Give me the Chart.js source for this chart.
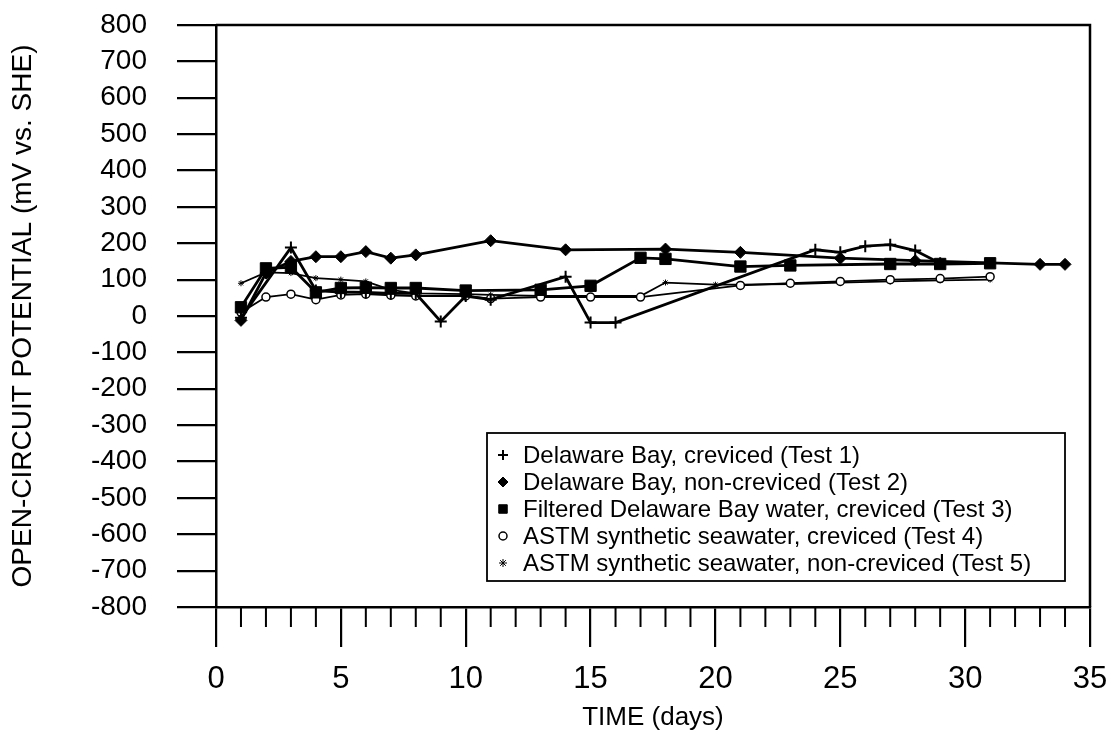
<!DOCTYPE html>
<html>
<head>
<meta charset="utf-8">
<script src="https://cdn.jsdelivr.net/npm/chart.js@4/dist/chart.umd.min.js"></script>
<style>
  html, body { margin: 0; padding: 0; background: #fff; }
  #wrap { width: 1117px; height: 737px; position: relative; }
</style>
</head>
<body>
<div id="wrap"><canvas id="c" width="1117" height="737"></canvas></div>
<script>
// ---- Data ----
const seriesLabels = [
  'Delaware Bay, creviced (Test 1)',
  'Delaware Bay, non-creviced (Test 2)',
  'Filtered Delaware Bay water, creviced (Test 3)',
  'ASTM synthetic seawater, creviced (Test 4)',
  'ASTM synthetic seawater, non-creviced (Test 5)'
];
const days1 = [1, 3, 4, 5, 6, 7, 8, 9, 10, 11, 14, 15, 16, 24, 25, 26, 27, 28, 29];
const test1 = [-5, 188, 70, 66, 65, 62, 62, -15, 55, 45, 108, -18, -18, 182, 175, 192, 196, 180, 145];

const days2 = [1, 2, 3, 4, 5, 6, 7, 8, 11, 14, 18, 21, 25, 28, 33, 34];
const test2 = [-12, 118, 150, 163, 163, 177, 159, 168, 207, 182, 184, 175, 159, 152, 142, 142];

const days3 = [1, 2, 3, 4, 5, 6, 7, 8, 10, 13, 15, 17, 18, 21, 23, 27, 29, 31];
const test3 = [24, 131, 134, 65, 77, 78, 77, 77, 70, 72, 83, 160, 157, 136, 139, 143, 143, 145];

const days4 = [1, 2, 3, 4, 5, 6, 7, 8, 10, 11, 13, 15, 17, 21, 23, 25, 27, 29, 31];
const test4 = [10, 52, 60, 45, 58, 60, 57, 55, 55, 48, 52, 52, 52, 84, 90, 95, 100, 103, 108];

const days5 = [1, 2, 3, 4, 5, 6, 7, 8, 10, 11, 13, 15, 17, 18, 20, 21, 23, 25, 27, 29, 31];
const test5 = [90, 120, 118, 104, 100, 95, 72, 62, 60, 58, 55, 55, 55, 92, 86, 86, 88, 92, 95, 98, 100];

const xTicksMajor = [0, 5, 10, 15, 20, 25, 30, 35];
const yTickMin = -800, yTickMax = 800, yTickStep = 100;
const yTitle = 'OPEN-CIRCUIT POTENTIAL (mV vs. SHE)';
const xTitle = 'TIME (days)';

// ---- helpers ----
function pts(xs, ys) { return xs.map((x, i) => ({ x: x, y: ys[i] })); }

const styles = [
  { pointStyle: 'cross', radius: 6, bw: 2, fill: '#000', lw: 2.8 },
  { pointStyle: 'rectRot', radius: 6, bw: 1, fill: '#000', lw: 2.8 },
  { pointStyle: 'rect', radius: 8, bw: 1, fill: '#000', lw: 2.8 },
  { pointStyle: 'circle', radius: 4, bw: 1.5, fill: '#fff', lw: 1.8 },
  { pointStyle: 'star', radius: 3, bw: 1, fill: '#000', lw: 1.8 }
];
const allDays = [days1, days2, days3, days4, days5];
const allVals = [test1, test2, test3, test4, test5];

const datasets = allVals.map((v, i) => ({
  label: seriesLabels[i],
  data: pts(allDays[i], v),
  borderColor: '#000',
  backgroundColor: styles[i].fill,
  borderWidth: styles[i].lw,
  pointStyle: styles[i].pointStyle,
  pointRadius: styles[i].radius,
  pointBorderWidth: styles[i].bw,
  pointBorderColor: '#000',
  pointBackgroundColor: styles[i].fill,
  tension: 0,
  fill: false
}));

// Frame, minor ticks and boxed legend
const framePlugin = {
  id: 'frame',
  afterDraw(chart) {
    const ctx = chart.ctx;
    const a = chart.chartArea;
    const xs = chart.scales.x;
    ctx.save();
    ctx.strokeStyle = '#000';
    // top and right frame
    ctx.lineWidth = 2.5;
    ctx.beginPath();
    ctx.moveTo(a.left, a.top);
    ctx.lineTo(a.right, a.top);
    ctx.lineTo(a.right, a.bottom);
    ctx.stroke();
    // minor x ticks each day
    ctx.lineWidth = 2;
    ctx.beginPath();
    for (let d = xs.min; d <= xs.max; d++) {
      if (d % 5 === 0) continue;
      const px = xs.getPixelForValue(d);
      ctx.moveTo(px, a.bottom);
      ctx.lineTo(px, a.bottom + 20);
    }
    ctx.stroke();

    // legend box
    const bx = 487, by = 433, bw = 578, bh = 148;
    ctx.fillStyle = '#fff';
    ctx.fillRect(bx, by, bw, bh);
    ctx.lineWidth = 1.8;
    ctx.strokeRect(bx, by, bw, bh);
    ctx.font = '24px "Liberation Sans", Arial, sans-serif';
    ctx.textBaseline = 'middle';
    ctx.textAlign = 'left';
    ctx.fillStyle = '#000';
    const rowY0 = 455, rowStep = 27;
    chart.data.datasets.forEach((ds, i) => {
      const y = rowY0 + i * rowStep;
      const st = styles[i];
      const opts = {
        pointStyle: st.pointStyle,
        radius: i === 2 ? 6 : (i === 0 ? 5 : (i === 1 ? 5 : 4)),
        rotation: 0,
        borderWidth: st.bw
      };
      ctx.save();
      ctx.fillStyle = st.fill;
      ctx.strokeStyle = '#000';
      ctx.lineWidth = st.bw;
      if (Chart.helpers && Chart.helpers.drawPoint) {
        Chart.helpers.drawPoint(ctx, opts, 503, y);
      }
      ctx.restore();
      ctx.fillStyle = '#000';
      ctx.fillText(ds.label, 523, y + 1);
    });
    ctx.restore();
  }
};

new Chart(document.getElementById('c'), {
  type: 'line',
  data: { datasets: datasets },
  plugins: [framePlugin],
  options: {
    responsive: false,
    animation: false,
    layout: { padding: { top: 25, right: 27, left: 0, bottom: 0 } },
    plugins: {
      legend: { display: false },
      tooltip: { enabled: false }
    },
    scales: {
      x: {
        type: 'linear',
        min: 0,
        max: 35,
        afterFit(scale) { scale.height = 130; scale.paddingLeft = 0; scale.paddingRight = 0; },
        afterBuildTicks(scale) { scale.ticks = xTicksMajor.map(v => ({ value: v })); },
        grid: { drawOnChartArea: false, drawTicks: true, tickLength: 40, color: '#000', lineWidth: 2.2 },
        border: { display: true, color: '#000', width: 2.5 },
        ticks: {
          color: '#000',
          padding: 14,
          maxRotation: 0,
          autoSkip: false,
          font: { family: '"Liberation Sans", Arial, sans-serif', size: 31 }
        },
        title: {
          display: true,
          text: xTitle,
          color: '#000',
          padding: { top: 0, bottom: 4 },
          font: { family: '"Liberation Sans", Arial, sans-serif', size: 26 }
        }
      },
      y: {
        type: 'linear',
        min: yTickMin,
        max: yTickMax,
        afterFit(scale) { scale.width = 216; scale.paddingTop = 0; scale.paddingBottom = 0; },
        ticks: {
          stepSize: yTickStep,
          color: '#000',
          padding: 30,
          autoSkip: false,
          font: { family: '"Liberation Sans", Arial, sans-serif', size: 28 }
        },
        grid: { drawOnChartArea: false, drawTicks: true, tickLength: 39, color: '#000', lineWidth: 2.2 },
        border: { display: true, color: '#000', width: 2.5 },
        title: {
          display: true,
          text: yTitle,
          color: '#000',
          padding: { top: 6, bottom: 0 },
          font: { family: '"Liberation Sans", Arial, sans-serif', size: 28 }
        }
      }
    }
  }
});
</script>
</body>
</html>
